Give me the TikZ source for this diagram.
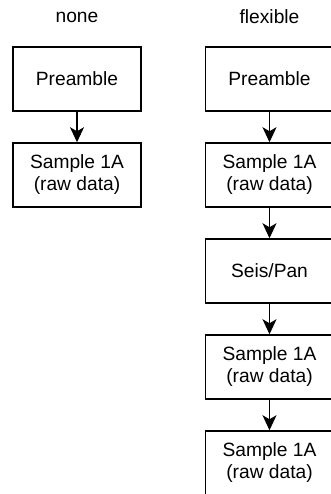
\documentclass[tikz,border=0pt]{standalone}
\usepackage{fontspec}
\setmainfont{Liberation Sans}
\usetikzlibrary{arrows.meta}
\usetikzlibrary{positioning}

\tikzset{
  block/.style={draw, line width=1.5pt, minimum width=128pt, minimum height=64pt,
    align=center, inner sep=0pt},
  flow/.style={-{Stealth[length=15pt,width=14pt,inset=4pt]}, line width=1.5pt},
}

\begin{document}
\begin{tikzpicture}[x=1pt,y=-1pt,font=\fontsize{19.2}{22}\selectfont]
  \clip (0,0) rectangle (331,494);

  \node (tnone) at (77,17) {none};
  \node (tflex) at (269.5,17) {flexible};

  \node[block] (preA) at (77,79) {Preamble};
  \node[block] (rawA) at (77,175) {Sample 1A\\(raw data)};

  \node[block] (preB)  at (269.5,79)  {Preamble};
  \node[block] (rawB)  at (269.5,175) {Sample 1A\\(raw data)};
  \node[block] (seis)  at (269.5,271) {Seis/Pan};
  \node[block] (rawC)  at (269.5,367) {Sample 1A\\(raw data)};
  \node[block] (rawD)  at (269.5,463) {Sample 1A\\(raw data)};

  \draw[flow] (preA) -- (rawA);
  \draw[flow] (preB) -- (rawB);
  \draw[flow] (rawB) -- (seis);
  \draw[flow] (seis) -- (rawC);
  \draw[flow] (rawC) -- (rawD);
\end{tikzpicture}
\end{document}
